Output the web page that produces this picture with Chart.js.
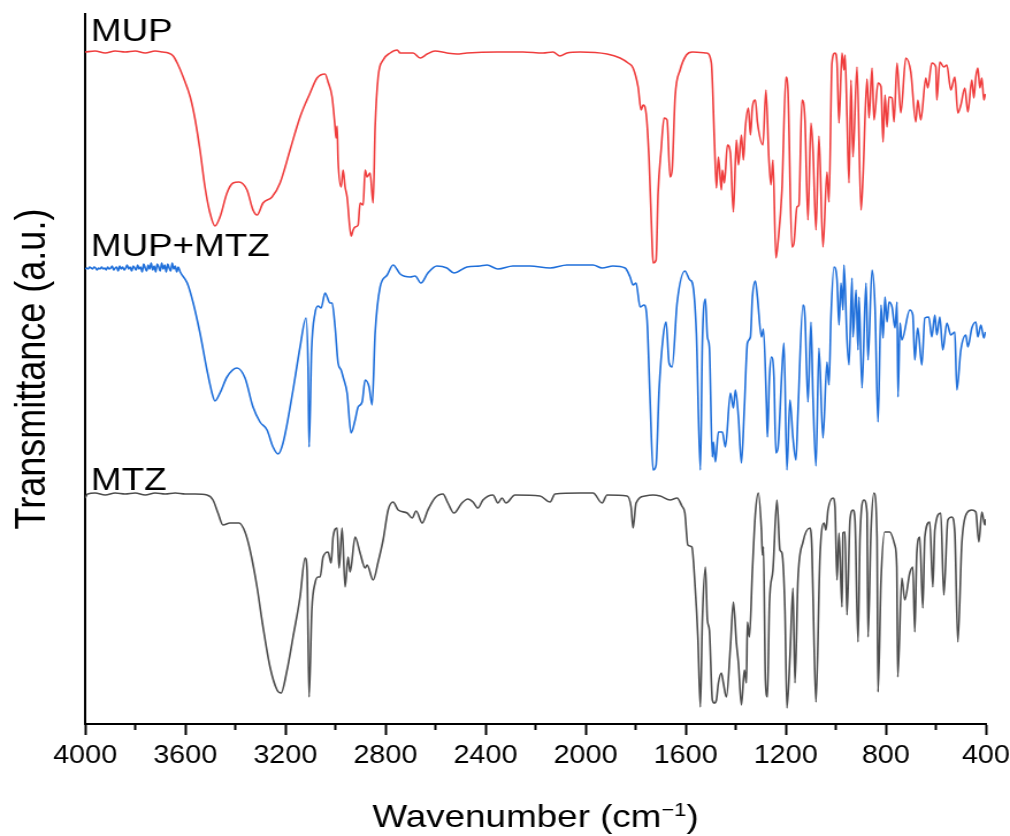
<!DOCTYPE html>
<html><head><meta charset="utf-8">
<script src="https://cdn.jsdelivr.net/npm/chart.js@4.4.1/dist/chart.umd.min.js"></script>
<style>html,body{margin:0;padding:0;background:#fff;overflow:hidden}</style></head>
<body><canvas id="c" width="878" height="836" style="display:block;width:1010px;height:836px"></canvas>
<script>
const xTicks = [4000,3600,3200,2800,2400,2000,1600,1200,800,400];
const xMinorTicks = [3800,3400,3000,2600,2200,1800,1400,1000,600];
const seriesNames = ['MUP','MUP+MTZ','MTZ'];

// [wavenumber (cm-1), transmittance (a.u., offset stack)]
const mupSpectrum = [[4000,672],[3960,673],[3920,671],[3880,673],[3840,672],[3800,673],[3760,671],[3720,673],[3690,672],[3668,671],[3648,668],[3632,661],[3608,647],[3580,627],[3560,604],[3541,574],[3521,537],[3501,511],[3481,498],[3461,507],[3433,531],[3409,541],[3385,542],[3353,534],[3329,514],[3313,509],[3289,521],[3253,527],[3221,541],[3181,574],[3141,607],[3101,631],[3073,646],[3041,650],[3029,642],[3013,627],[3001,597],[2997,586],[2993,598],[2989,564],[2977,537],[2969,554],[2961,537],[2953,527],[2937,488],[2929,494],[2921,497],[2909,499],[2901,521],[2889,519],[2881,554],[2873,547],[2861,551],[2849,521],[2841,597],[2829,647],[2809,664],[2781,671],[2753,674],[2741,671],[2689,671],[2661,666],[2633,670],[2602,673],[2554,671],[2514,670],[2474,671],[2354,672],[2250,672],[2170,671],[2130,672],[2102,668],[2074,671],[2022,672],[1914,670],[1862,666],[1830,661],[1810,656],[1790,637],[1778,614],[1770,619],[1758,611],[1746,564],[1734,481],[1730,461],[1718,464],[1710,531],[1698,574],[1686,606],[1674,604],[1662,547],[1654,554],[1642,627],[1622,654],[1597,669],[1573,672],[1517,671],[1497,661],[1485,584],[1477,536],[1469,567],[1457,534],[1453,554],[1445,541],[1433,579],[1421,571],[1409,512],[1397,584],[1389,559],[1377,589],[1369,564],[1361,597],[1349,616],[1341,589],[1333,617],[1321,624],[1313,602],[1291,579],[1279,634],[1267,564],[1259,539],[1251,564],[1239,466],[1231,481],[1215,534],[1199,647],[1191,634],[1175,477],[1167,481],[1155,517],[1147,519],[1135,624],[1123,604],[1111,504],[1099,601],[1091,574],[1079,494],[1067,588],[1051,477],[1035,552],[1027,522],[1015,661],[1003,671],[995,661],[987,601],[975,671],[967,654],[963,669],[955,607],[947,541],[939,644],[931,567],[915,657],[899,514],[891,547],[875,645],[867,606],[855,656],[847,604],[831,641],[819,637],[811,582],[803,629],[795,597],[787,627],[775,626],[767,602],[755,661],[740,611],[720,666],[700,652],[680,602],[672,624],[660,604],[640,646],[632,636],[616,661],[600,657],[596,624],[584,662],[568,657],[556,659],[540,634],[524,647],[512,611],[500,619],[484,636],[472,612],[456,644],[448,626],[440,647],[432,656],[424,636],[416,646],[408,624],[402,630]];

const mupMtzSpectrum = [[4000,455],[3994,456],[3988,455],[3982,457],[3976,456],[3970,455],[3964,457],[3958,456],[3952,454],[3946,456],[3940,455],[3934,457],[3928,455],[3922,456],[3916,454],[3910,457],[3904,455],[3898,456],[3892,458],[3886,454],[3880,456],[3874,457],[3868,453],[3862,458],[3856,455],[3850,457],[3844,454],[3838,456],[3832,459],[3826,455],[3820,457],[3814,453],[3808,458],[3802,456],[3796,454],[3790,459],[3784,455],[3778,457],[3772,452],[3766,460],[3760,456],[3754,453],[3748,459],[3742,455],[3736,461],[3730,454],[3724,458],[3718,452],[3712,460],[3706,457],[3700,453],[3694,461],[3688,455],[3682,459],[3676,452],[3670,460],[3664,456],[3658,453],[3652,461],[3646,455],[3640,458],[3634,452],[3628,457],[3620,452],[3592,441],[3568,421],[3541,391],[3513,354],[3493,331],[3481,323],[3461,331],[3433,347],[3393,356],[3361,346],[3329,317],[3301,302],[3273,294],[3249,277],[3229,270],[3209,281],[3169,334],[3141,377],[3117,406],[3109,357],[3105,277],[3095,374],[3081,411],[3069,418],[3057,416],[3041,431],[3021,421],[3013,421],[3001,397],[2989,361],[2977,354],[2969,347],[2953,331],[2937,291],[2921,304],[2909,317],[2893,322],[2881,344],[2865,337],[2853,319],[2841,391],[2821,437],[2793,449],[2769,459],[2741,450],[2701,447],[2681,448],[2658,441],[2630,451],[2594,458],[2554,456],[2526,451],[2474,457],[2422,458],[2394,459],[2350,455],[2290,458],[2222,458],[2142,456],[2074,459],[1970,459],[1934,456],[1890,458],[1842,456],[1822,447],[1810,439],[1798,441],[1782,417],[1766,419],[1754,404],[1742,324],[1730,254],[1718,259],[1706,334],[1690,387],[1678,402],[1666,361],[1654,357],[1634,421],[1603,453],[1583,444],[1573,441],[1557,391],[1541,254],[1533,381],[1521,425],[1513,387],[1505,377],[1493,267],[1489,282],[1481,262],[1469,292],[1453,292],[1441,277],[1421,331],[1409,316],[1401,334],[1389,307],[1377,261],[1365,317],[1353,381],[1341,387],[1333,427],[1321,443],[1313,427],[1297,387],[1289,395],[1277,321],[1273,287],[1265,347],[1257,367],[1247,347],[1239,271],[1231,276],[1215,354],[1207,381],[1195,254],[1183,324],[1171,286],[1159,264],[1151,311],[1131,419],[1123,407],[1111,322],[1099,402],[1091,327],[1079,258],[1067,376],[1051,286],[1035,362],[1027,339],[1019,407],[1007,457],[995,444],[987,399],[979,441],[971,414],[967,459],[955,384],[947,359],[935,446],[931,387],[919,434],[911,374],[907,427],[895,336],[879,441],[871,364],[855,454],[843,417],[831,302],[819,419],[811,386],[803,427],[795,402],[787,422],[775,417],[763,396],[755,422],[751,327],[743,401],[736,384],[704,414],[692,409],[684,364],[676,389],[672,396],[656,359],[644,406],[628,407],[616,387],[604,409],[596,389],[584,407],[572,374],[556,401],[540,389],[524,392],[516,334],[500,374],[480,389],[472,377],[456,396],[440,402],[432,387],[420,399],[408,386],[402,392]];

const mtzSpectrum = [[4000,226],[3990,230],[3960,231],[3920,229],[3880,231],[3840,230],[3800,231],[3760,229],[3720,231],[3680,230],[3640,231],[3600,230],[3560,230],[3513,229],[3489,224],[3469,211],[3449,199],[3421,201],[3385,201],[3361,192],[3341,174],[3313,137],[3289,97],[3261,57],[3233,34],[3217,31],[3193,54],[3169,87],[3141,127],[3121,166],[3113,154],[3105,27],[3094,114],[3081,141],[3069,147],[3061,147],[3049,167],[3029,172],[3017,161],[3009,187],[2993,196],[2985,156],[2973,196],[2961,137],[2949,167],[2941,152],[2921,187],[2901,171],[2881,156],[2873,159],[2849,144],[2829,162],[2809,184],[2789,214],[2769,222],[2749,214],[2713,211],[2693,206],[2677,213],[2653,201],[2630,214],[2602,226],[2570,230],[2550,221],[2526,211],[2494,221],[2470,225],[2450,222],[2430,216],[2410,224],[2370,229],[2350,221],[2334,226],[2318,221],[2282,229],[2182,228],[2142,222],[2122,230],[2022,231],[1970,231],[1934,221],[1914,229],[1834,228],[1818,217],[1810,196],[1798,221],[1762,228],[1730,229],[1702,228],[1662,224],[1634,226],[1615,218],[1603,211],[1591,179],[1575,177],[1563,141],[1551,87],[1541,17],[1533,104],[1521,157],[1513,104],[1505,94],[1493,24],[1485,21],[1477,24],[1469,41],[1457,51],[1449,41],[1437,27],[1421,77],[1409,122],[1397,81],[1389,61],[1377,19],[1365,54],[1357,41],[1353,102],[1345,87],[1333,154],[1321,211],[1309,231],[1297,194],[1293,169],[1289,177],[1281,44],[1273,27],[1265,121],[1251,154],[1235,224],[1223,174],[1215,171],[1203,114],[1195,16],[1183,67],[1171,136],[1163,41],[1151,144],[1131,182],[1103,196],[1095,174],[1087,84],[1079,22],[1063,167],[1047,201],[1039,194],[1031,214],[1011,226],[1003,217],[995,144],[987,191],[975,117],[971,191],[963,192],[955,109],[943,204],[931,214],[923,204],[911,82],[903,187],[887,224],[875,211],[871,87],[859,194],[847,231],[835,187],[831,32],[819,144],[804,192],[784,192],[764,179],[756,157],[752,47],[736,146],[724,124],[704,151],[692,157],[684,92],[676,171],[664,187],[652,116],[644,187],[624,202],[612,137],[604,194],[580,211],[568,129],[552,204],[536,207],[524,191],[512,82],[496,181],[476,211],[456,214],[440,212],[428,182],[416,212],[404,199],[400,205]];

const FONT = '"Liberation Sans", Arial, Helvetica, sans-serif';
const toXY = arr => arr.map(p => ({x: p[0], y: p[1]}));

const textPlugin = {
  id: 'texts',
  afterDraw(chart) {
    const {ctx, chartArea, scales} = chart;
    const xs = scales.x;
    ctx.save();
    // minor ticks
    ctx.strokeStyle = '#000';
    ctx.lineWidth = 2;
    xMinorTicks.forEach(v => {
      const px = xs.getPixelForValue(v);
      ctx.beginPath();
      ctx.moveTo(px, chartArea.bottom);
      ctx.lineTo(px, chartArea.bottom + 6);
      ctx.stroke();
    });
    ctx.fillStyle = '#000';
    // series labels
    ctx.font = '32px ' + FONT;
    ctx.textAlign = 'left';
    ctx.textBaseline = 'alphabetic';
    const labelY = [41, 256, 490];
    seriesNames.forEach((n, i) => ctx.fillText(n, chartArea.left + 5, labelY[i]));
    // x title
    const mainF = '32px ' + FONT, supF = '19px ' + FONT;
    const a = 'Wavenumber (cm', s = '\u22121', b = ')';
    ctx.font = mainF; const wa = ctx.measureText(a).width, wb = ctx.measureText(b).width;
    ctx.font = supF; const ws = ctx.measureText(s).width;
    const cx = (chartArea.left + chartArea.right) / 2;
    let x0 = cx - (wa + ws + wb) / 2;
    const by = 827;
    ctx.font = mainF; ctx.fillText(a, x0, by); x0 += wa;
    ctx.font = supF; ctx.fillText(s, x0, by - 11); x0 += ws;
    ctx.font = mainF; ctx.fillText(b, x0, by);
    // y title
    ctx.translate(39, (chartArea.top + chartArea.bottom) / 2);
    ctx.rotate(-Math.PI / 2);
    ctx.font = '36px ' + FONT;
    ctx.textAlign = 'center';
    ctx.fillText('Transmittance (a.u.)', 0, 0);
    ctx.restore();
  }
};

new Chart(document.getElementById('c'), {
  type: 'line',
  data: {
    datasets: [
      {label: seriesNames[0], data: toXY(mupSpectrum), borderColor: '#EF3D3D'},
      {label: seriesNames[1], data: toXY(mupMtzSpectrum), borderColor: '#1F6FDA'},
      {label: seriesNames[2], data: toXY(mtzSpectrum), borderColor: '#4D4D4D'}
    ]
  },
  options: {
    responsive: false,
    devicePixelRatio: 1,
    animation: false,
    events: [],
    layout: {padding: {top: 14, right: 21, left: 0, bottom: 0}},
    elements: {
      line: {borderWidth: 1.6, tension: 0, cubicInterpolationMode: 'monotone', fill: false},
      point: {radius: 0}
    },
    plugins: {legend: {display: false}, tooltip: {enabled: false}},
    scales: {
      x: {
        type: 'linear', reverse: true, min: 400, max: 4000,
        afterBuildTicks: sc => { sc.ticks = xTicks.map(v => ({value: v})); },
        afterFit: sc => { sc.height = 112; sc.paddingLeft = 0; sc.paddingRight = 0; },
        ticks: {color: '#000', font: {family: FONT, size: 25}, padding: 6, maxRotation: 0, autoSkip: false,
                callback: v => String(v)},
        grid: {display: true, drawOnChartArea: false, drawTicks: true, tickLength: 11, tickWidth: 2, tickColor: '#000'},
        border: {display: true, color: '#000', width: 2}
      },
      y: {
        type: 'linear', min: 0, max: 710,
        afterFit: sc => { sc.width = 74; },
        ticks: {display: false},
        grid: {display: true, drawOnChartArea: false, drawTicks: false},
        border: {display: true, color: '#000', width: 2}
      }
    }
  },
  plugins: [textPlugin]
});
</script>
</body></html>
